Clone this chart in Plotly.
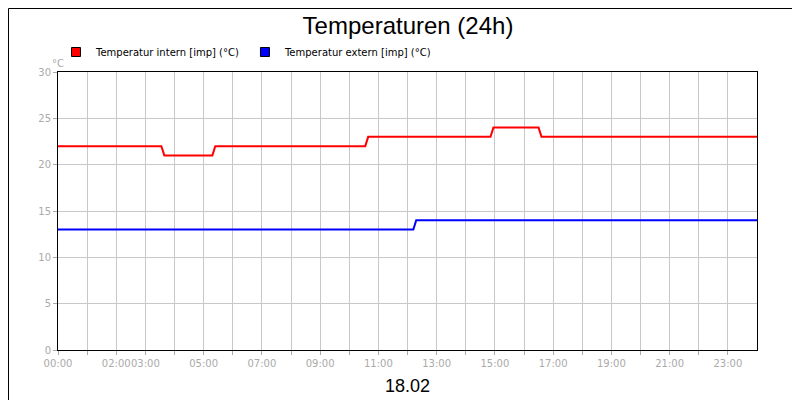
import plotly.graph_objects as go

# hours of day, step changes with short ramps
intern_x = [0, 3.55, 3.65, 5.3, 5.4, 10.55, 10.65, 14.85, 14.95, 16.5, 16.6, 24]
intern_y = [22, 22, 21, 21, 22, 22, 23, 23, 24, 24, 23, 23]
extern_x = [0, 12.2, 12.3, 24]
extern_y = [13, 13, 14, 14]

hours = list(range(24))
labels = {0: "00:00", 2: "02:00", 3: "03:00", 5: "05:00", 7: "07:00", 9: "09:00",
          11: "11:00", 13: "13:00", 15: "15:00", 17: "17:00", 19: "19:00",
          21: "21:00", 23: "23:00"}
tick_text = [labels.get(h, "") for h in hours]

fig = go.Figure()
fig.add_trace(go.Scatter(x=intern_x, y=intern_y, mode="lines",
                         line=dict(color="#ff0000", width=2), showlegend=False))
fig.add_trace(go.Scatter(x=extern_x, y=extern_y, mode="lines",
                         line=dict(color="#0000ff", width=2), showlegend=False))
for name, col in [("Temperatur intern [imp] (°C)", "#ff0000"),
                  ("Temperatur extern [imp] (°C)", "#0000ff")]:
    fig.add_trace(go.Scatter(x=[None], y=[None], mode="markers", name=name,
                             marker=dict(symbol="square", size=9, color=col,
                                         line=dict(color="black", width=1))))

pw = 800 - 50 - 51
ph = 400 - 64 - 58
fig.update_layout(
    width=800, height=400,
    margin=dict(l=50, r=51, t=64, b=58, autoexpand=False),
    paper_bgcolor="white", plot_bgcolor="white",
    font=dict(family="DejaVu Sans", size=10, color="black"),
    title=dict(text="Temperaturen (24h)", x=0.5, xanchor="center", y=0.955,
               yanchor="middle", font=dict(size=24, family="Liberation Sans")),
    legend=dict(orientation="h", x=-(50 - 48) / pw, xanchor="left", y=1 + 20 / ph,
                yanchor="middle", font=dict(size=10),
                bgcolor="rgba(0,0,0,0)"),
    xaxis=dict(range=[0, 24], tickvals=hours, ticktext=tick_text, tickangle=0,
               automargin=False,
               showgrid=True, gridcolor="#c8c8c8", zeroline=False,
               showline=True, linecolor="black", mirror=True,
               ticks="outside", ticklen=4, tickcolor="#aaaaaa",
               tickfont=dict(color="#aaaaaa", size=10)),
    yaxis=dict(range=[0, 30], dtick=5, showgrid=True, gridcolor="#c8c8c8",
               automargin=False,
               zeroline=False, showline=True, linecolor="black", mirror=True,
               ticks="outside", ticklen=4, tickcolor="#aaaaaa",
               tickfont=dict(color="#aaaaaa", size=10)),
    annotations=[
        dict(text="°C", xref="paper", yref="paper", x=-8 / pw, y=1 + 16 / ph,
             showarrow=False, font=dict(color="#aaaaaa", size=10)),
        dict(text="18.02", xref="paper", yref="paper", x=0.5, y=-36 / ph,
             yanchor="middle", showarrow=False,
             font=dict(size=18, family="Liberation Sans")),
    ],
    shapes=[dict(type="rect", xref="paper", yref="paper",
                 x0=-49.5 / pw, x1=1 + 49.5 / pw, y0=-57.5 / ph, y1=1 + 63.5 / ph,
                 line=dict(color="black", width=1))],
)
fig.write_html("out.html")
